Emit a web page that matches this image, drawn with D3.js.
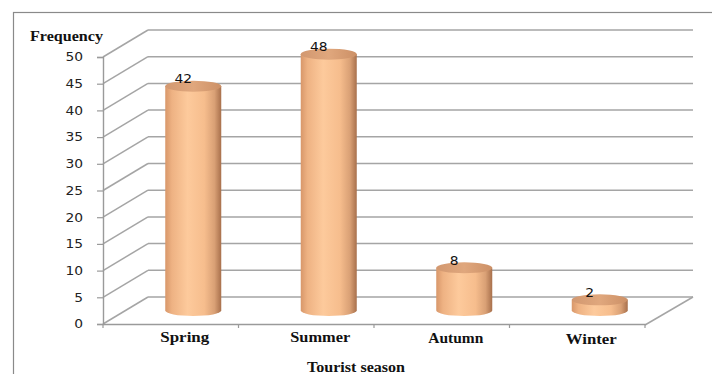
<!DOCTYPE html>
<html>
<head>
<meta charset="utf-8">
<script src="https://cdn.jsdelivr.net/npm/d3@7"></script>
<style>
  html, body { margin: 0; padding: 0; background: #fff; }
  svg { display: block; }
</style>
</head>
<body>
<svg id="chart" width="712" height="374"></svg>
<script>
// Tourist season frequencies
const seasons = ["Spring", "Summer", "Autumn", "Winter"];
const frequency = [42, 48, 8, 2];
const yTicks = [0, 5, 10, 15, 20, 25, 30, 35, 40, 45, 50];

const svg = d3.select("#chart");

// Front plane of the 3-D plot and its depth offset
const plotLeft = 103, plotRight = 645, plotBottom = 324, plotTop = 57;
const depthX = 45, depthY = -27;

const x = d3.scaleBand().domain(seasons).range([plotLeft, plotRight]);
const y = d3.scaleLinear().domain([0, 50]).range([plotBottom, plotTop]);

const serif = "Liberation Serif, Times New Roman, serif";
const sans = "DejaVu Sans, Verdana, sans-serif";
// Wide numeral style: each digit takes about 9px
const digitWidth = 8.8;

// Outer frame
svg.append("rect")
  .attr("x", 13.5).attr("y", 12.5)
  .attr("width", 720).attr("height", 400)
  .attr("fill", "none").attr("stroke", "#8a8a8a").attr("stroke-width", 1.2);

const grid = svg.append("g").attr("stroke", "#a5a5a5").attr("stroke-width", 1.5).attr("fill", "none");

// Back wall gridlines
grid.selectAll("line.back").data(yTicks).join("line")
  .attr("class", "back")
  .attr("x1", plotLeft + depthX).attr("x2", plotRight + depthX + 3)
  .attr("y1", d => y(d) + depthY).attr("y2", d => y(d) + depthY);

// Side wall diagonals
grid.selectAll("line.side").data(yTicks).join("line")
  .attr("class", "side")
  .attr("x1", plotLeft).attr("y1", d => y(d))
  .attr("x2", plotLeft + depthX).attr("y2", d => y(d) + depthY);

// Floor right edge
grid.append("line")
  .attr("x1", plotRight).attr("y1", plotBottom + 1)
  .attr("x2", plotRight + depthX + 3).attr("y2", plotBottom + depthY);

// Value axis
const yAxis = svg.append("g")
  .attr("transform", `translate(${plotLeft},0)`)
  .call(d3.axisLeft(y).tickValues(yTicks).tickSize(6).tickPadding(14));
yAxis.select(".domain").attr("stroke", "#9a9a9a").attr("stroke-width", 1.4);
yAxis.selectAll(".tick line").attr("stroke", "#9a9a9a").attr("stroke-width", 1.2);
yAxis.selectAll(".tick text")
  .attr("font-family", sans)
  .attr("font-size", 12).attr("fill", "#222")
  .attr("textLength", d => String(d).length * digitWidth)
  .attr("lengthAdjust", "spacingAndGlyphs");

// Category axis
const xAxis = svg.append("g")
  .attr("transform", `translate(0,${plotBottom})`)
  .call(d3.axisBottom(x).tickSize(0).tickPadding(0));
xAxis.select(".domain").attr("stroke", "#9a9a9a").attr("stroke-width", 1.4);
xAxis.selectAll(".tick text").remove();
// Boundary ticks between categories
xAxis.selectAll("line.bound").data(seasons.map(s => x(s)).concat([plotRight])).join("line")
  .attr("class", "bound")
  .attr("x1", d => d).attr("x2", d => d)
  .attr("y1", 0).attr("y2", 4)
  .attr("stroke", "#9a9a9a").attr("stroke-width", 1.2);

// Category names, set wide in bold serif
const catWidth = { Spring: 49, Summer: 60, Autumn: 55, Winter: 51 };
svg.selectAll("text.cat").data(seasons).join("text")
  .attr("class", "cat")
  .attr("x", d => x(d) + x.bandwidth() / 2 + 14)
  .attr("y", (d, i) => 341.5 + i * 0.7)
  .attr("text-anchor", "middle")
  .attr("font-family", serif)
  .attr("font-weight", "bold").attr("font-size", 14).attr("fill", "#111")
  .attr("textLength", d => catWidth[d])
  .attr("lengthAdjust", "spacingAndGlyphs")
  .text(d => d);

// Cylinder gradients
const defs = svg.append("defs");
const bodyGrad = defs.append("linearGradient").attr("id", "body").attr("x1", "0").attr("x2", "1").attr("y1", "0").attr("y2", "0");
[["0%", "#d8976a"], ["12%", "#eeb283"], ["40%", "#fdca9c"], ["70%", "#f6bd8d"], ["88%", "#d9a075"], ["100%", "#a8704c"]]
  .forEach(([o, c]) => bodyGrad.append("stop").attr("offset", o).attr("stop-color", c));
const topGrad = defs.append("linearGradient").attr("id", "cap").attr("x1", "0").attr("x2", "1").attr("y1", "0").attr("y2", "0");
[["0%", "#d29870"], ["50%", "#e0a77d"], ["100%", "#cc9066"]]
  .forEach(([o, c]) => topGrad.append("stop").attr("offset", o).attr("stop-color", c));

const rx = 28, ry = 5.5;
const cxOf = d => x(d) + x.bandwidth() / 2 + depthX / 2;
const baseY = y(0) + depthY / 2;

const bars = svg.selectAll("g.bar").data(seasons.map((s, i) => ({ s, v: frequency[i] }))).join("g").attr("class", "bar");

bars.append("path")
  .attr("fill", "url(#body)")
  .attr("d", d => {
    const cx = cxOf(d.s), ty = y(d.v) + depthY / 2;
    return `M${cx - rx},${ty} L${cx - rx},${baseY} A${rx},${ry} 0 0 0 ${cx + rx},${baseY} L${cx + rx},${ty} Z`;
  });

bars.append("ellipse")
  .attr("cx", d => cxOf(d.s))
  .attr("cy", d => y(d.v) + depthY / 2)
  .attr("rx", rx).attr("ry", ry)
  .attr("fill", "url(#cap)");

// Value labels
bars.append("text")
  .attr("x", d => cxOf(d.s) - 10)
  .attr("y", d => y(d.v) + depthY / 2 - 3)
  .attr("text-anchor", "middle")
  .attr("font-family", sans)
  .attr("font-size", 12).attr("fill", "#111")
  .attr("textLength", d => String(d.v).length * digitWidth)
  .attr("lengthAdjust", "spacingAndGlyphs")
  .text(d => d.v);

// Axis titles
svg.append("text")
  .attr("x", 30).attr("y", 40.5)
  .attr("font-family", serif)
  .attr("font-weight", "bold").attr("font-size", 14).attr("fill", "#111")
  .attr("textLength", 73).attr("lengthAdjust", "spacingAndGlyphs")
  .text("Frequency");

svg.append("text")
  .attr("x", 356).attr("y", 372)
  .attr("text-anchor", "middle")
  .attr("font-family", serif)
  .attr("font-weight", "bold").attr("font-size", 14).attr("fill", "#111")
  .attr("textLength", 98).attr("lengthAdjust", "spacingAndGlyphs")
  .text("Tourist season");
</script>
</body>
</html>
